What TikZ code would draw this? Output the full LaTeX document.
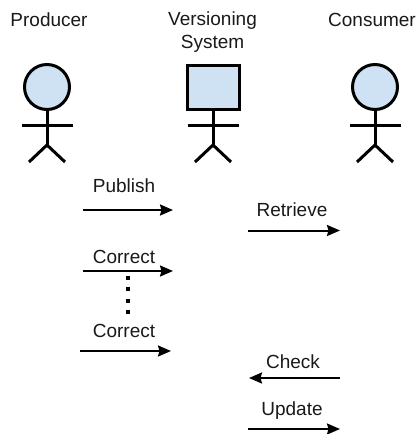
\documentclass[tikz,border=0pt]{standalone}
\usepackage{fontspec}
\setmainfont{Liberation Sans}
\usetikzlibrary{arrows.meta}
\definecolor{headblue}{HTML}{CFE2F3}
\tikzset{
    name label/.style={anchor=base,inner sep=0pt,font=\fontsize{19}{23}\selectfont,text=black!90},
    head/.style={circle,draw,line width=3pt,fill=headblue,minimum size=45pt,inner sep=0pt},
    boxhead/.style={rectangle,draw,line width=3pt,fill=headblue,minimum width=52pt,minimum height=44pt,inner sep=0pt},
    limb/.style={line width=3pt},
    msg/.style={-{Stealth[length=13pt,width=11pt,inset=1.5pt]},line width=2pt}
}
\begin{document}
\begin{tikzpicture}[x=1pt,y=-1pt]
    \useasboundingbox (0,0) rectangle (418,434);
    % actors
    \node[name label] (producer) at (49,26) {Producer};
    \node[name label,align=center,anchor=center] (versioning) at (212.5,32) {Versioning\\System};
    \node[name label] (consumer) at (372,26) {Consumer};
    \node[head] (headp) at (47,87) {};
    \node[boxhead] (headv) at (213,87) {};
    \node[head] (headc) at (375,87) {};
    \foreach \who/\top/\x in {p/headp/47,v/headv/213,c/headc/375}{
        \coordinate (hip\who) at (\x,145);
        \coordinate (armL\who) at (\x-25.5,125);
        \coordinate (armR\who) at (\x+25.5,125);
        \coordinate (legL\who) at (\x-18,162);
        \coordinate (legR\who) at (\x+18,162);
        \draw[limb] (\top) ++(0,23) -- (hip\who);
        \draw[limb] (armL\who) -- (armR\who);
        \draw[limb] (legL\who) -- (hip\who) -- (legR\who);
    }
    % messages
    \foreach \tag/\xa/\xb/\y in {publish/83/173/210,retrieve/248/340/230.5,correcta/83/173/271,correctb/80/171/351,check/340/249/378,update/248/340/429}{
        \coordinate (\tag A) at (\xa,\y);
        \coordinate (\tag B) at (\xb,\y);
        \draw[msg] (\tag A) -- (\tag B);
    }
    \node[name label] (publish) at (124,192) {Publish};
    \node[name label] (retrieve) at (292,216) {Retrieve};
    \node[name label] (correcta) at (124,263) {Correct};
    \node[name label] (correctb) at (124,337) {Correct};
    \node[name label] (check) at (293,368) {Check};
    \node[name label] (update) at (292,415) {Update};
    \coordinate (dotsA) at (128,276);
    \coordinate (dotsB) at (128,314);
    \draw[line width=3.5pt,dash pattern=on 4pt off 7.3pt] (dotsA) -- (dotsB);
\end{tikzpicture}
\end{document}
